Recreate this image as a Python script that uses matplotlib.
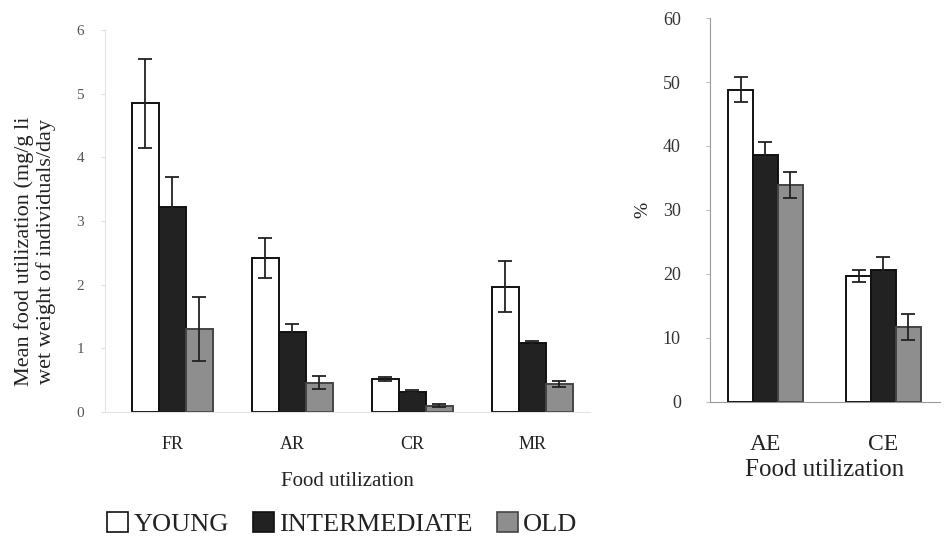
import matplotlib
matplotlib.use("Agg")
import matplotlib.pyplot as plt
from matplotlib.patches import Patch
import numpy as np

plt.rcParams['font.family'] = ['Liberation Serif', 'DejaVu Serif']

# Food utilization rates (mg/g live wet weight of individuals/day)
rate_categories = ["FR", "AR", "CR", "MR"]
rate_young = [4.85, 2.42, 0.52, 1.97]
rate_young_err = [0.70, 0.32, 0.03, 0.40]
rate_inter = [3.22, 1.26, 0.32, 1.08]
rate_inter_err = [0.47, 0.12, 0.02, 0.04]
rate_old = [1.30, 0.46, 0.10, 0.44]
rate_old_err = [0.50, 0.10, 0.02, 0.05]

# Efficiencies (%)
eff_categories = ["AE", "CE"]
eff_young = [48.8, 19.7]
eff_young_err = [2.0, 1.0]
eff_inter = [38.6, 20.7]
eff_inter_err = [2.0, 2.0]
eff_old = [33.9, 11.7]
eff_old_err = [2.0, 2.0]

groups = ["YOUNG", "INTERMEDIATE", "OLD"]
face = ["white", "#222222", "#8e8e8e"]
edge = ["#111111", "#111111", "#444444"]

fig = plt.figure(figsize=(9.5, 5.49), dpi=100)

ax1 = fig.add_axes([0.1105, 0.2495, 0.5105, 0.6959])
ax2 = fig.add_axes([0.7474, 0.2678, 0.2421, 0.6994])


def draw(ax, cats, series, errs, width):
    x = np.arange(len(cats))
    offs = [-width, 0, width]
    for i, (vals, err) in enumerate(zip(series, errs)):
        ax.bar(x + offs[i], vals, width, color=face[i], edgecolor=edge[i],
               linewidth=1.4, zorder=2)
        ax.errorbar(x + offs[i], vals, yerr=err, fmt="none", ecolor="#222222",
                    elinewidth=1.3, capsize=5, capthick=1.3, zorder=3)
    ax.set_xticks(x)
    ax.set_xticklabels(cats)
    return x


draw(ax1, rate_categories, [rate_young, rate_inter, rate_old],
     [rate_young_err, rate_inter_err, rate_old_err], 0.225)
ax1.set_xlim(-0.56, 3.48)
ax1.set_ylim(0, 6)
ax1.set_yticks(range(0, 7))
for s in ["top", "right"]:
    ax1.spines[s].set_visible(False)
for s in ["left", "bottom"]:
    ax1.spines[s].set_color("#e4e4e4")
ax1.tick_params(axis="y", colors="#dddddd", labelcolor="#555555", labelsize=11,
                length=3, pad=12)
ax1.tick_params(axis="x", length=0, labelsize=13, pad=17, labelcolor="#222222")
ax1.set_xlabel("Food utilization", fontsize=15, labelpad=14, color="#222222")
ax1.set_ylabel("Mean food utilization (mg/g li\nwet weight of individuals/day",
               fontsize=16, color="#222222", linespacing=1.15)
ax1.yaxis.set_label_coords(-0.10, 0.42)

draw(ax2, eff_categories, [eff_young, eff_inter, eff_old],
     [eff_young_err, eff_inter_err, eff_old_err], 0.21)
ax2.set_xlim(-0.47, 1.48)
ax2.set_ylim(0, 60)
ax2.set_yticks(range(0, 61, 10))
for s in ["top", "right"]:
    ax2.spines[s].set_visible(False)
for s in ["left", "bottom"]:
    ax2.spines[s].set_color("#999999")
ax2.tick_params(axis="y", colors="#bbbbbb", labelcolor="#333333", labelsize=13,
                length=3, pad=18)
ax2.tick_params(axis="x", length=0, labelsize=17, pad=23, labelcolor="#222222")
ax2.set_xlabel("Food utilization", fontsize=18, labelpad=3, color="#222222")
ax2.set_ylabel("%", fontsize=14, labelpad=8, color="#222222")

handles = [Patch(facecolor=face[i], edgecolor=edge[i], linewidth=1.2) for i in range(3)]
fig.legend(handles, groups, loc="center left", bbox_to_anchor=(0.088, 0.045),
           ncol=3, frameon=False, fontsize=19, handlelength=0.8, handleheight=0.8,
           handletextpad=0.2, columnspacing=0.9, labelcolor="#222222")

fig.savefig("out.png", dpi=100, facecolor="white")
